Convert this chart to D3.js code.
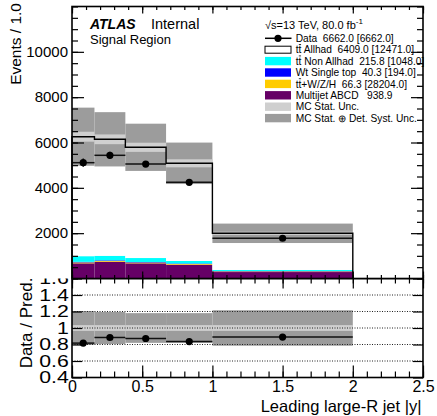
<!DOCTYPE html>
<html>
<head>
<meta charset="utf-8">
<script src="https://cdn.jsdelivr.net/npm/d3@7"></script>
<style>
  body { margin: 0; background: #fff; }
  svg { display: block; font-family: "Liberation Sans", Arial, Helvetica, sans-serif; }
  text { white-space: pre; }
</style>
</head>
<body>
<div id="chart"></div>
<script>
// bin edges of leading large-R jet |y| (events normalised to bin width)
const binEdges = [0, 0.16, 0.38, 0.67, 1.0, 2.0];

// data and stacked backgrounds, events / 1.0
const dataCounts = [5110, 5435, 5050, 4245, 1775];
const multijet = [670, 740, 670, 610, 285];
const ttVH = [40, 38, 36, 32, 30];
const wtSingleTop = [25, 24, 22, 20, 18];
const ttNonAllhad = [250, 200, 175, 110, 45];
const ttAllhad = [5271, 5139, 4885, 4310, 1616];

// relative uncertainties on the total prediction
const statFrac = [0.035, 0.035, 0.035, 0.035, 0.035];
const systFrac = [0.205, 0.195, 0.18, 0.18, 0.215];

// tick values
const xTicks = [0, 0.5, 1, 1.5, 2, 2.5];
const yTicksTop = [2000, 4000, 6000, 8000, 10000];
const yTicksRatio = [0.4, 0.6, 0.8, 1.0, 1.2, 1.4, 1.6];
const ratioGrid = [0.6, 0.8, 1.0, 1.2, 1.4];

// legend entries (tt drawn with a bar on the second t)
const legendLabels = [
    ["", "Data  6662.0 [6662.0]"],
    ["tt", " Allhad  6409.0 [12471.0]"],
    ["tt", " Non Allhad  215.8 [1048.0]"],
    ["", "Wt Single top  40.3 [194.0]"],
    ["tt", "+W/Z/H  66.3 [28204.0]"],
    ["", "Multijet ABCD   938.9"],
    ["", "MC Stat. Unc."],
    ["", "MC Stat. \u2295 Det. Syst. Unc."]
];

const keys = ["multijet", "ttVH", "wt", "nonAllhad", "allhad"];
const colors = {
    multijet: "#660066",
    ttVH: "#ffcc00",
    wt: "#0000ff",
    nonAllhad: "#00ffff",
    allhad: "#ffffff"
};
const statColor = "#cfcfcf";
const systColor = "#9c9c9c";

const width = 437, height = 416;
const left = 72, right = 423;
const topY = 6.5, splitY = 278.5, bottomY = 377.5;

const svg = d3.select("#chart").append("svg")
    .attr("width", width)
    .attr("height", height);

// scales
const x = d3.scaleLinear().domain([0, 2.5]).range([left, right]);
const yTop = d3.scaleLinear().domain([0, 12000]).range([splitY, topY]);
const yRat = d3.scaleLinear().domain([0.4, 1.6]).range([bottomY, splitY]);

// per-bin rows
const rows = dataCounts.map((d, i) => ({
    lo: binEdges[i],
    hi: binEdges[i + 1],
    data: d,
    multijet: multijet[i],
    ttVH: ttVH[i],
    wt: wtSingleTop[i],
    nonAllhad: ttNonAllhad[i],
    allhad: ttAllhad[i],
    stat: statFrac[i],
    syst: systFrac[i]
}));
rows.forEach(r => {
    r.total = keys.reduce((s, k) => s + r[k], 0);
    r.ratio = r.data / r.total;
    r.err = Math.sqrt(r.data * (r.hi - r.lo)) / (r.hi - r.lo);
});

/* ---------- ratio panel ---------- */
const ratio = svg.append("g");

ratio.selectAll(".syst").data(rows).enter().append("rect")
    .attr("x", d => x(d.lo)).attr("width", d => x(d.hi) - x(d.lo))
    .attr("y", d => yRat(1 + d.syst)).attr("height", d => yRat(1 - d.syst) - yRat(1 + d.syst))
    .attr("fill", systColor);
ratio.selectAll(".stat").data(rows).enter().append("rect")
    .attr("x", d => x(d.lo)).attr("width", d => x(d.hi) - x(d.lo))
    .attr("y", d => yRat(1 + d.stat)).attr("height", d => yRat(1 - d.stat) - yRat(1 + d.stat))
    .attr("fill", statColor);

ratio.selectAll(".grid").data(ratioGrid).enter().append("line")
    .attr("x1", left).attr("x2", right)
    .attr("y1", d => yRat(d)).attr("y2", d => yRat(d))
    .attr("stroke", "#222").attr("stroke-width", 1)
    .attr("stroke-dasharray", "1,1.5");

ratio.selectAll(".rbar").data(rows).enter().append("line")
    .attr("x1", d => x(d.lo)).attr("x2", d => x(d.hi))
    .attr("y1", d => yRat(d.ratio)).attr("y2", d => yRat(d.ratio))
    .attr("stroke", "#111").attr("stroke-width", 1.5);
ratio.selectAll(".rpt").data(rows).enter().append("circle")
    .attr("cx", d => x((d.lo + d.hi) / 2)).attr("cy", d => yRat(d.ratio))
    .attr("r", 3.6).attr("fill", "#000");

// ratio axes
const rLeft = ratio.append("g").attr("transform", `translate(${left},0)`)
    .call(d3.axisLeft(yRat).tickValues(yTicksRatio).tickSize(-10).tickPadding(2.4)
        .tickFormat(d => d === 1 ? "1" : d3.format(".1f")(d)));
rLeft.selectAll("text").attr("font-size", 16).attr("fill", "#000")
    .attr("transform", "scale(1.33,1)");
ratio.append("g").attr("transform", `translate(${right},0)`)
    .call(d3.axisRight(yRat).tickValues(yTicksRatio).tickSize(-10).tickFormat(""));

const rBottom = ratio.append("g").attr("transform", `translate(0,${bottomY})`)
    .call(d3.axisBottom(x).tickValues(xTicks).tickSize(-12).tickPadding(3).tickFormat(d3.format("")));
rBottom.selectAll("text").attr("font-size", 16).attr("fill", "#000");
ratio.append("g").attr("transform", `translate(0,${bottomY})`)
    .call(d3.axisBottom(x).ticks(25).tickSize(-6).tickFormat(""));
ratio.append("g").attr("transform", `translate(0,${splitY})`)
    .call(d3.axisBottom(x).tickValues(xTicks).tickSize(10).tickFormat(""));
ratio.append("g").attr("transform", `translate(0,${splitY})`)
    .call(d3.axisBottom(x).ticks(25).tickSize(5).tickFormat(""));
ratio.selectAll(".domain").remove();
ratio.selectAll(".tick line").attr("stroke", "#000").attr("stroke-width", 1.2);
ratio.append("rect")
    .attr("x", left).attr("y", splitY).attr("width", right - left).attr("height", bottomY - splitY)
    .attr("fill", "none").attr("stroke", "#000").attr("stroke-width", 1.6);

// axis titles
svg.append("text")
    .attr("transform", `translate(32,${(splitY + bottomY) / 2 - 5}) rotate(-90)`)
    .attr("text-anchor", "middle").attr("font-size", 17)
    .text("Data / Pred.");
svg.append("text")
    .attr("x", 421.5).attr("y", 411.5).attr("text-anchor", "end").attr("font-size", 16.5)
    .text("Leading large-R jet |y|");

/* ---------- main panel ---------- */
svg.append("rect").attr("x", 0).attr("y", 0).attr("width", width).attr("height", splitY)
    .attr("fill", "#fff");
const main = svg.append("g");

const stack = d3.stack().keys(keys)(rows);
main.selectAll(".layer").data(stack).enter().append("g")
    .attr("fill", d => colors[d.key])
    .selectAll("rect").data(d => d).enter().append("rect")
    .attr("x", d => x(d.data.lo)).attr("width", d => x(d.data.hi) - x(d.data.lo))
    .attr("y", d => yTop(d[1])).attr("height", d => yTop(d[0]) - yTop(d[1]));

main.selectAll(".syst").data(rows).enter().append("rect")
    .attr("x", d => x(d.lo)).attr("width", d => x(d.hi) - x(d.lo))
    .attr("y", d => yTop(d.total * (1 + d.syst)))
    .attr("height", d => yTop(d.total * (1 - d.syst)) - yTop(d.total * (1 + d.syst)))
    .attr("fill", systColor);
main.selectAll(".stat").data(rows).enter().append("rect")
    .attr("x", d => x(d.lo)).attr("width", d => x(d.hi) - x(d.lo))
    .attr("y", d => yTop(d.total * (1 + d.stat)))
    .attr("height", d => yTop(d.total * (1 - d.stat)) - yTop(d.total * (1 + d.stat)))
    .attr("fill", statColor);

// outline of the stacked prediction
const outline = [[binEdges[0], 0]];
rows.forEach(r => { outline.push([r.lo, r.total]); outline.push([r.hi, r.total]); });
outline.push([binEdges[binEdges.length - 1], 0]);
main.append("path")
    .attr("d", d3.line().x(d => x(d[0])).y(d => yTop(d[1]))(outline))
    .attr("fill", "none").attr("stroke", "#000").attr("stroke-width", 1.4);

// data points
main.selectAll(".hbar").data(rows).enter().append("line")
    .attr("x1", d => x(d.lo)).attr("x2", d => x(d.hi))
    .attr("y1", d => yTop(d.data)).attr("y2", d => yTop(d.data))
    .attr("stroke", "#111").attr("stroke-width", 1.5);
main.selectAll(".vbar").data(rows).enter().append("line")
    .attr("x1", d => x((d.lo + d.hi) / 2)).attr("x2", d => x((d.lo + d.hi) / 2))
    .attr("y1", d => yTop(d.data + d.err)).attr("y2", d => yTop(d.data - d.err))
    .attr("stroke", "#111").attr("stroke-width", 1.5);
main.selectAll(".pt").data(rows).enter().append("circle")
    .attr("cx", d => x((d.lo + d.hi) / 2)).attr("cy", d => yTop(d.data))
    .attr("r", 3.6).attr("fill", "#000");

// main axes
const mLeft = main.append("g").attr("transform", `translate(${left},0)`)
    .call(d3.axisLeft(yTop).tickValues(yTicksTop).tickSize(-12).tickPadding(4).tickFormat(d3.format("d")));
mLeft.selectAll("text").attr("font-size", 15).attr("fill", "#000");
main.append("g").attr("transform", `translate(${left},0)`)
    .call(d3.axisLeft(yTop).ticks(24).tickSize(-6).tickFormat(""));
main.append("g").attr("transform", `translate(${right},0)`)
    .call(d3.axisRight(yTop).tickValues(yTicksTop).tickSize(-12).tickFormat(""));
main.append("g").attr("transform", `translate(${right},0)`)
    .call(d3.axisRight(yTop).ticks(24).tickSize(-6).tickFormat(""));
main.append("g").attr("transform", `translate(0,${splitY})`)
    .call(d3.axisTop(x).tickValues(xTicks).tickSize(7).tickFormat(""));
main.append("g").attr("transform", `translate(0,${splitY})`)
    .call(d3.axisTop(x).ticks(25).tickSize(3.5).tickFormat(""));
main.append("g").attr("transform", `translate(0,${topY})`)
    .call(d3.axisBottom(x).tickValues(xTicks).tickSize(7).tickFormat(""));
main.append("g").attr("transform", `translate(0,${topY})`)
    .call(d3.axisBottom(x).ticks(25).tickSize(3.5).tickFormat(""));
main.selectAll(".domain").remove();
main.selectAll(".tick line").attr("stroke", "#000").attr("stroke-width", 1.2);
main.append("rect")
    .attr("x", left).attr("y", topY).attr("width", right - left).attr("height", splitY - topY)
    .attr("fill", "none").attr("stroke", "#000").attr("stroke-width", 1.6);

svg.append("text")
    .attr("transform", "translate(21,3) rotate(-90)")
    .attr("text-anchor", "end").attr("font-size", 15.5)
    .text("Events / 1.0");

// ATLAS label
svg.append("text").attr("x", 90).attr("y", 28.5)
    .attr("font-size", 14).attr("font-weight", "bold").attr("font-style", "italic")
    .text("ATLAS");
svg.append("text").attr("x", 151).attr("y", 28.5).attr("font-size", 14.5)
    .text("Internal");
svg.append("text").attr("x", 90).attr("y", 43.5).attr("font-size", 13)
    .text("Signal Region");

// legend
const lumi = svg.append("text").attr("x", 265).attr("y", 28.5).attr("font-size", 11);
lumi.append("tspan").text("\u221As=13 TeV, 80.0 fb");
lumi.append("tspan").attr("dy", -4.5).attr("font-size", 8).text("-1");

const legend = svg.append("g");
const rowY = i => 38.3 + i * 11.4;
const boxFill = [null, "#ffffff", colors.nonAllhad, colors.wt, colors.ttVH, colors.multijet, statColor, systColor];

legend.append("line").attr("x1", 265).attr("x2", 291.5)
    .attr("y1", rowY(0)).attr("y2", rowY(0)).attr("stroke", "#000").attr("stroke-width", 1.5);
legend.append("circle").attr("cx", 278).attr("cy", rowY(0)).attr("r", 3.6).attr("fill", "#000");

legend.selectAll(".box").data(boxFill.slice(1)).enter().append("rect")
    .attr("x", 265).attr("width", 26)
    .attr("y", (d, i) => rowY(i + 1) - (i === 0 ? 3.5 : 4.2))
    .attr("height", (d, i) => i === 0 ? 7 : 8.4)
    .attr("fill", d => d)
    .attr("stroke", (d, i) => i === 0 ? "#000" : "none")
    .attr("stroke-width", 1);

const fontSize = 10.2;
legendLabels.forEach((lab, i) => {
    const t = legend.append("text")
        .attr("x", 295.7).attr("y", rowY(i) + 3.6)
        .attr("font-size", fontSize);
    if (lab[0]) {
        t.append("tspan").text(lab[0]);
        // bar over the second t: t width ~0.278em
        legend.append("line")
            .attr("x1", 295.7 + 0.278 * fontSize + 0.3).attr("x2", 295.7 + 2 * 0.278 * fontSize - 0.3)
            .attr("y1", rowY(i) - 5.2).attr("y2", rowY(i) - 5.2)
            .attr("stroke", "#000").attr("stroke-width", 0.8);
    }
    t.append("tspan").text(lab[1]);
});
</script>
</body>
</html>
